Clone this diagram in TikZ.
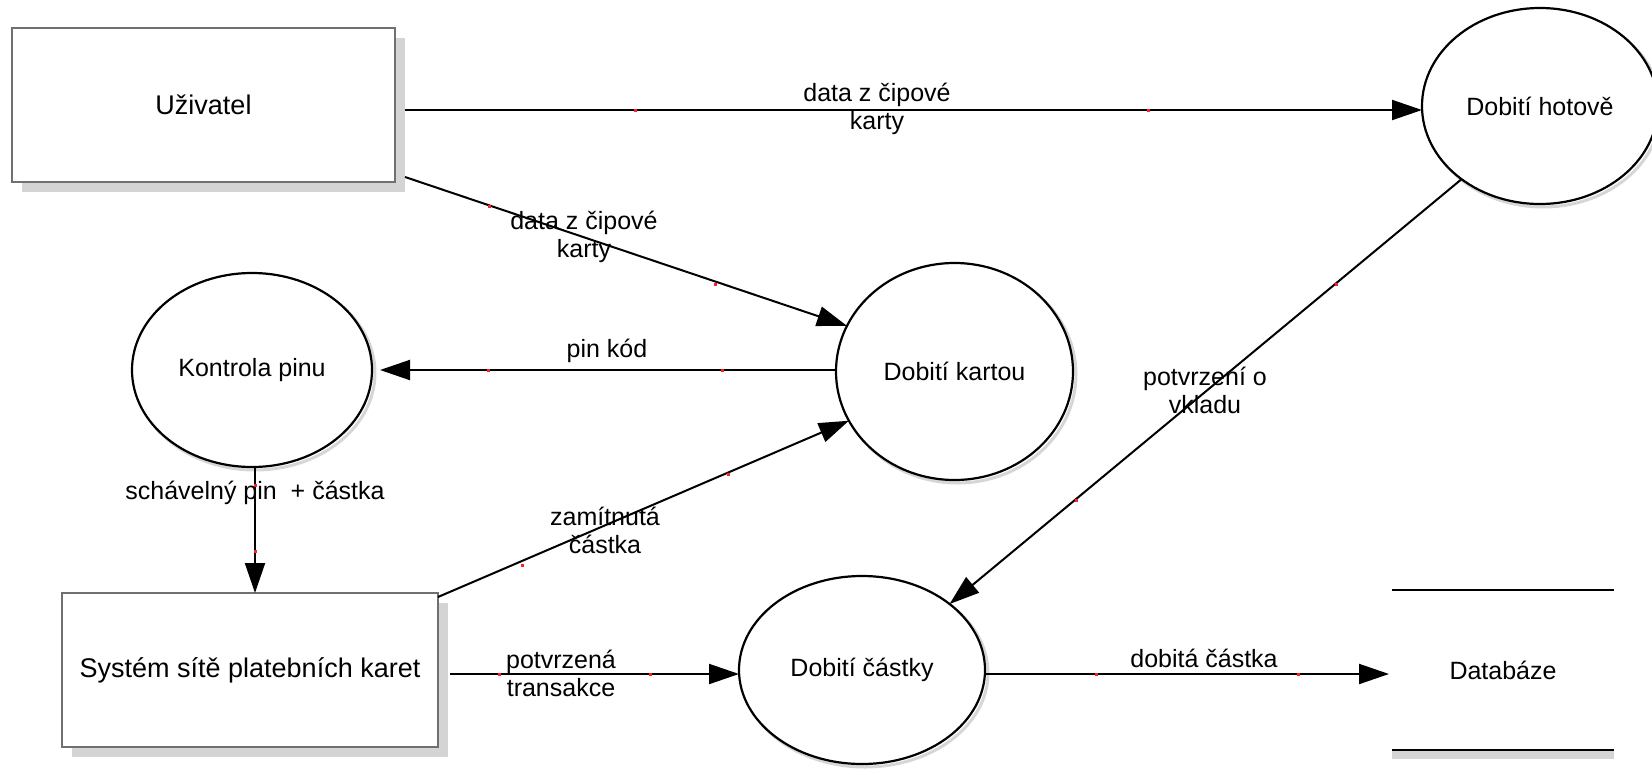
\documentclass[tikz,border=0pt]{standalone}
\usepackage{fontspec}
\setmainfont{Liberation Sans}
\usetikzlibrary{arrows.meta,shapes.geometric,backgrounds,calc}
\definecolor{boxgray}{HTML}{707070}
\definecolor{shadowgray}{HTML}{D4D4D4}
\definecolor{ringshadow}{HTML}{D6D6D6}
\definecolor{dotred}{HTML}{FF2020}

\begin{document}
\begin{tikzpicture}[x=1pt,y=-1pt,
  every node/.style={font=\fontsize{25}{28}\selectfont},
  entity/.style={rectangle, draw=boxgray, line width=2pt, fill=white,
    inner sep=0pt, outer sep=0pt, font=\fontsize{27}{30}\selectfont},
  process/.style={ellipse, draw=black, line width=2.2pt, fill=white,
    inner sep=0pt, outer sep=0pt},
  store/.style={rectangle, draw=none, inner sep=0pt, outer sep=0pt,
    minimum width=222pt, minimum height=160pt},
  flow/.style={line width=2pt, -{Triangle[length=30pt,width=20pt]}},
  lbl/.style={align=center, inner sep=0pt},
  dotmark/.style={fill=dotred}
]
\useasboundingbox (0,0) rectangle (1652,774);

% external entities
\node[entity, minimum width=383pt, minimum height=154pt] (uz) at (203.5,105) {Uživatel};
\node[entity, minimum width=376pt, minimum height=154pt] (sys) at (250,670) {Systém sítě platebních karet};

% processes
\node[process, minimum width=236pt, minimum height=196pt] (hot) at (1540,106) {Dobití hotově};
\node[process, minimum width=240pt, minimum height=194pt] (kon) at (252,370) {Kontrola pinu};
\node[process, minimum width=237pt, minimum height=217pt] (kart) at (954.5,371.5) {Dobití kartou};
\node[process, minimum width=246pt, minimum height=188pt] (cas) at (862,670) {Dobití částky};

% data store
\node[store] (db) at (1503,670) {Databáze};
\draw[line width=2.5pt] (db.north west) -- (db.north east);
\draw[line width=2.5pt] (db.south west) -- (db.south east);

% shadows
\begin{scope}[on background layer]
  \fill[shadowgray] ($(uz.south west)+(10,10)$) rectangle ($(uz.north east)+(10,10)$);
  \fill[shadowgray] ($(sys.south west)+(10,10)$) rectangle ($(sys.north east)+(10,10)$);
  \draw[ringshadow, line width=3pt] ($(hot.center)+(3,3)$) ellipse [x radius=118pt, y radius=98pt];
  \draw[ringshadow, line width=3pt] ($(kon.center)+(3,3)$) ellipse [x radius=120pt, y radius=97pt];
  \draw[ringshadow, line width=3pt] ($(kart.center)+(3,3)$) ellipse [x radius=118.5pt, y radius=108.5pt];
  \draw[ringshadow, line width=3pt] ($(cas.center)+(3,3)$) ellipse [x radius=123pt, y radius=94pt];
  \fill[shadowgray] (db.south west) rectangle ($(db.south east)+(0,9)$);
\end{scope}

% data flows
\draw[flow] ([shift={(10,5)}]uz.east) -- ([shift={(0,4)}]hot.west);
\draw[flow] ([shift={(10,-5)}]uz.south east) -- (kart.157.3);
\draw[flow] ([shift={(0,-1.5)}]kart.west) -- ([shift={(8,0)}]kon.east);
\draw[flow] ([shift={(3,0)}]kon.south) -- ([shift={(3,0)}]kon.south |- sys.north);
\draw[flow] ([shift={(0,4)}]sys.north east) -- (kart.205);
\draw[flow] ([shift={(12,4)}]sys.east) -- ([shift={(0,4)}]cas.west);
\draw[flow] (hot.223) -- (cas.37.2);
\draw[flow] ([shift={(0,4)}]cas.east) -- ([shift={(-3,4)}]db.west);

% flow labels
\node[lbl] (l1) at (877,109) {data z čipové\\karty};
\node[lbl] (l2) at (584,237) {data z čipové\\karty};
\node[lbl] (l3) at (607,351) {pin kód};
\node[lbl] (l4) at (255,493) {schávelný pin\ \ + částka};
\node[lbl] (l5) at (605,530) {zamítnutá\\částka};
\node[lbl] (l6) at (561,673) {potvrzená\\transakce};
\node[lbl] (l7) at (1205,390) {potvrzení o\\vkladu};
\node[lbl] (l8) at (1204,658) {dobitá částka};

% bend handles left on the flow lines
\foreach \p in {(635,110),(1148,110),(489,206),(715,284),(488,370),(722,370),
                (255,485),(255,551),(522,565),(728,474),(499,674),(650,674),
                (1076,500),(1336,284),(1096,674),(1298,674)}
  \fill[dotmark] \p ++(-1.5,-1.5) rectangle ++(3,3);
\end{tikzpicture}
\end{document}
